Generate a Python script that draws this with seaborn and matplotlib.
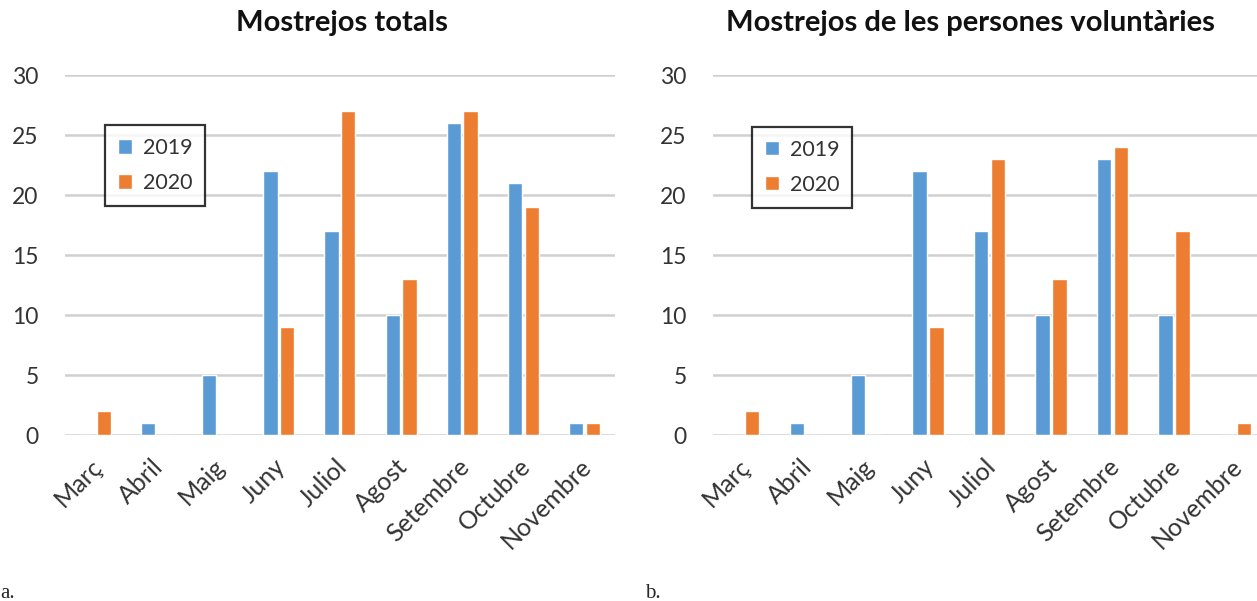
import numpy as np
import pandas as pd
import matplotlib.pyplot as plt
import matplotlib.transforms as mtransforms
import seaborn as sns

# month labels and counts
months = ['Març', 'Abril', 'Maig', 'Juny', 'Juliol', 'Agost', 'Setembre', 'Octubre', 'Novembre']
totals_2019 = [0, 1, 5, 22, 17, 10, 26, 21, 1]
totals_2020 = [2, 0, 0, 9, 27, 13, 27, 19, 1]
volunt_2019 = [0, 1, 5, 22, 17, 10, 23, 10, 0]
volunt_2020 = [2, 0, 0, 9, 23, 13, 24, 17, 1]
titles = ['Mostrejos totals', 'Mostrejos de les persones voluntàries']
yticks = [0, 5, 10, 15, 20, 25, 30]

sns.set_style('white')
plt.rcParams['font.family'] = ['Lato', 'DejaVu Sans']

pal = {'2019': '#5B9BD5', '2020': '#ED7D31'}


def long_df(a, b):
    df = pd.DataFrame({'Mes': months * 2,
                       'Any': ['2019'] * len(months) + ['2020'] * len(months),
                       'Valor': list(a) + list(b)})
    return df


fig = plt.figure(figsize=(12.57, 6.01), dpi=100)
ax1 = fig.add_axes([0.0517, 0.2762, 0.4375, 0.599])
ax2 = fig.add_axes([0.5672, 0.2762, 0.44, 0.599])

panels = [(ax1, long_df(totals_2019, totals_2020), titles[0], 0.504, 0.073, 0.861),
          (ax2, long_df(volunt_2019, volunt_2020), titles[1], 0.465, 0.0705, 0.856)]

shift = mtransforms.ScaledTranslation(-0.05, 0, fig.dpi_scale_trans)

for ax, df, title, tx, lx, ly in panels:
    ax.set_axisbelow(True)
    for y in yticks:
        ax.axhline(y, color='#d0d0d0', lw=1.8, zorder=0)
    sns.barplot(data=df, x='Mes', y='Valor', hue='Any', palette=pal, order=months,
                width=0.55, gap=0.15, saturation=1, ax=ax, zorder=2)
    ax.set_ylim(0, 30)
    ax.set_xlim(-0.5, 8.5)
    ax.set_yticks(yticks)
    ax.set_xlabel('')
    ax.set_ylabel('')
    for s in ax.spines.values():
        s.set_visible(False)
    ax.tick_params(axis='y', length=0, pad=19, labelsize=16.5, labelcolor='#333333')
    ax.tick_params(axis='x', length=0, pad=14, labelsize=18, labelcolor='#333333')
    for lab in ax.get_xticklabels():
        lab.set_rotation(45)
        lab.set_ha('right')
        lab.set_rotation_mode('anchor')
        lab.set_transform(lab.get_transform() + shift)
    ax.set_title(title, x=tx, y=1.1, fontsize=21, fontweight='bold', color='#111111')
    leg = ax.legend(loc='upper left', bbox_to_anchor=(lx, ly), fontsize=15.5,
                    handlelength=0.65, handleheight=0.65, handletextpad=0.5,
                    borderpad=0.6, labelspacing=0.7, borderaxespad=0,
                    fancybox=False, frameon=True)
    leg.get_frame().set_edgecolor('black')
    leg.get_frame().set_linewidth(1.6)
    for t in leg.get_texts():
        t.set_color('#333333')

fig.text(0.0, 0.005, 'a.', family=['Liberation Serif', 'DejaVu Serif'], fontsize=15)
fig.text(0.513, 0.005, 'b.', family=['Liberation Serif', 'DejaVu Serif'], fontsize=15)

fig.savefig('out.png', dpi=100)
